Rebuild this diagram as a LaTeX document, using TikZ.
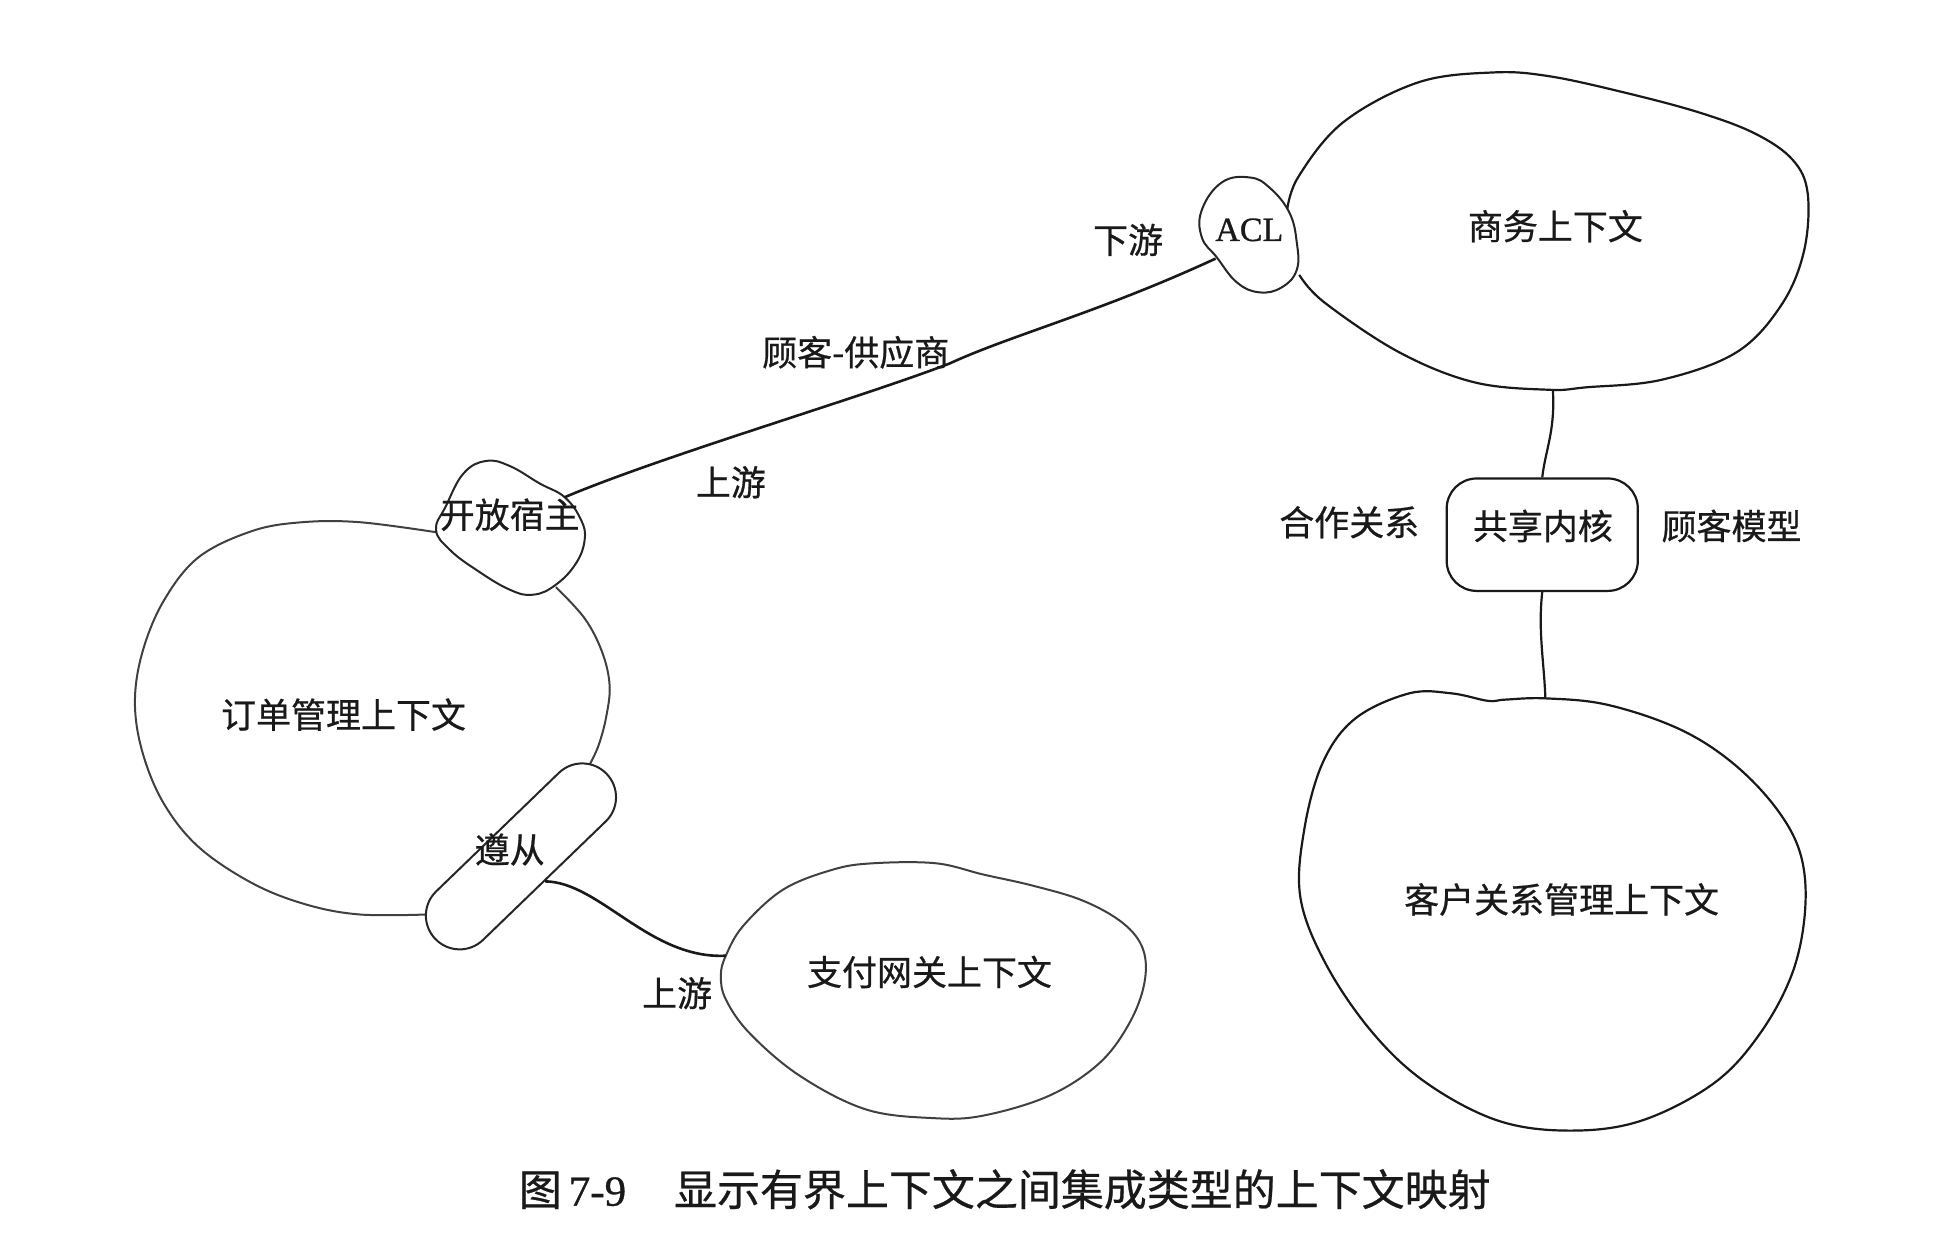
\documentclass[tikz,border=0pt]{standalone}
\usepackage{fontspec}
\setmainfont{Liberation Serif}
\newfontfamily\cjk[FakeBold=0.6]{Noto Sans CJK SC}
\newfontfamily\latinb[FakeBold=0.8]{Liberation Serif}
\begin{document}
\begin{tikzpicture}[x=0.625pt,y=-0.625pt,
  blob/.style={draw=black!90, line width=1.1pt},
  lightblob/.style={draw=black!75, line width=1pt},
  joint/.style={draw=black!85, line width=1pt, fill=white},
  conn/.style={draw=black!90, line width=1.3pt},
  lbl/.style={font=\cjk\fontsize{17.5}{20}\selectfont, inner sep=0pt, text=black!90},
  acltext/.style={font=\latinb\fontsize{17}{20}\selectfont, inner sep=0pt, text=black!90},
  capt/.style={font=\latinb\fontsize{21.5}{24}\selectfont, inner sep=0pt, text=black!90},
]
\useasboundingbox (0,0) rectangle (1562.5,1001.6);

% ---- 商务上下文 (open arc, ACL closes it)
\draw[blob] plot[smooth, tension=0.6] coordinates {(1030,170) (1039,142) (1075,98) (1135,66) (1195,58) (1240,61) (1300,74) (1360,90) (1405,107) (1435,128) (1447,155) (1444,201) (1426,244) (1390,282) (1330,304) (1270,310) (1240,312) (1180,306) (1120,282) (1060,242) (1040,220)};
\node[lbl] (biz) at (1245,181) {商务上下文};
\coordinate (bizB) at (1243,312);

% ---- ACL
\draw[joint] plot[smooth cycle, tension=0.7] coordinates {(962,168) (978,146) (1000,142) (1016,150) (1032,170) (1038,194) (1038,216) (1026,230) (1008,234) (990,226) (974,206) (962,190)};
\node[acltext] (acl) at (1000,184) {ACL};
\coordinate (aclL) at (973,207);

% ---- 订单管理上下文 (two visible arcs)
\draw[lightblob] plot[smooth, tension=0.6] coordinates {(349,426) (288,418) (242,418) (202,425) (159,446) (131,481) (114,522) (108,562) (114,602) (131,643) (159,678) (202,707) (245,724) (288,732) (342,732)};
\draw[lightblob] plot[smooth, tension=0.6] coordinates {(445,470) (468,495) (482,522) (488,549) (485,575) (479,597) (472,612)};
\node[lbl] (order) at (275,572) {订单管理上下文};

% ---- 开放宿主
\draw[joint] plot[smooth cycle, tension=0.7] coordinates {(349,424) (357,405) (371,379) (389,369) (408,373) (432,387) (452,398) (465,416) (468,432) (461,451) (445,468) (427,476) (408,472) (381,456) (360,440)};
\node[lbl] (ohs) at (408,412) {开放宿主};
\coordinate (ohR) at (452,398);

% ---- 遵从
\node[joint, rotate=44, minimum width=119pt, minimum height=33.75pt, rounded corners=16.8pt, inner sep=0pt] (zc) at (417,685.5) {};
\node[lbl] (zct) at (408,680) {遵从};

% ---- 支付网关上下文
\draw[lightblob] plot[smooth cycle, tension=0.6] coordinates {(581,765) (595,741) (627,712) (667,696) (699,691) (749,691) (787,700) (827,709) (867,721) (899,739) (915,760) (916,787) (904,819) (880,851) (840,877) (787,893) (747,895) (693,888) (640,861) (600,827) (581,800) (577,781)};
\node[lbl] (pay) at (744,778) {支付网关上下文};
\coordinate (payL) at (581,765);

% ---- 客户关系管理上下文
\draw[blob] plot[smooth cycle, tension=0.6] coordinates {(1237,559) (1286,564) (1343,583) (1386,610) (1421,646) (1441,683) (1445,727) (1435,778) (1409,827) (1372,867) (1314,897) (1257,905) (1199,897) (1142,867) (1099,827) (1062,773) (1041,719) (1044,664) (1059,610) (1085,575) (1128,555) (1162,555) (1191,561) (1205,560)};
\node[lbl] (crm) at (1250,720) {客户关系管理上下文};
\coordinate (crmT) at (1237,559);

% ---- 共享内核
\node[draw=black!90, line width=1.1pt, rounded corners=15pt, minimum width=95.6pt, minimum height=56.25pt, inner sep=0pt] (sk) at (1234.5,428) {};
\node[lbl] (skt) at (1235,421) {共享内核};

% ---- connectors
\coordinate (csmid) at (760,291);
\draw[conn] (aclL) .. controls (880,250) and (810,268) .. (csmid) .. controls (690,318) and (530,365) .. (ohR);
\draw[conn] (zc.south) .. controls (480,706) and (520,768) .. (payL);
\draw[blob] (bizB) .. controls (1245,345) and (1237,360) .. (sk.north);
\draw[blob] (sk.south) .. controls (1231,505) and (1236,530) .. (crmT);

% ---- labels
\node[lbl] (l1) at (903,192) {下游};
\node[lbl] (l2) at (685,282) {顾客-供应商};
\node[lbl] (l3) at (585,386) {上游};
\node[lbl] (l4) at (542,795) {上游};
\node[lbl] (l5) at (1080,418) {合作关系};
\node[lbl] (l6) at (1386,421) {顾客模型};

% ---- caption
\node[capt, anchor=west] (cap) at (415,952) {{\cjk 图}\hspace{3.5pt}7-9\hspace{24pt}{\cjk 显示有界上下文之间集成类型的上下文映射}};
\end{tikzpicture}
\end{document}
